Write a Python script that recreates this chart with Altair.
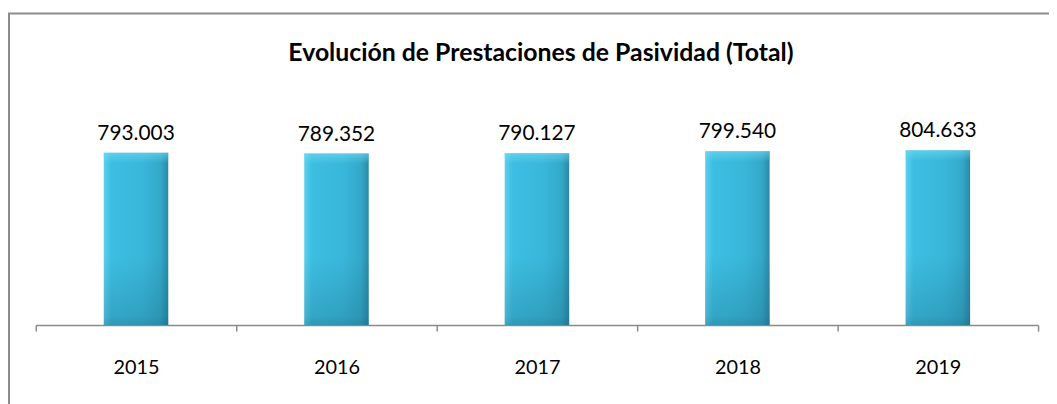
import altair as alt
import pandas as pd

years = ["2015", "2016", "2017", "2018", "2019"]
values = [793003, 789352, 790127, 799540, 804633]
labels = ["793.003", "789.352", "790.127", "799.540", "804.633"]
title_text = "Evolución de Prestaciones de Pasividad (Total)"

df = pd.DataFrame({"year": years, "value": values, "label": labels})

FONT = "Lato"

x = alt.X("year:N", title=None, sort=years,
          scale=alt.Scale(paddingInner=0, paddingOuter=0),
          axis=alt.Axis(labelAngle=0, tickBand="extent", domainColor="#8a8a8a",
                        tickColor="#8a8a8a", tickSize=6, domainWidth=1.5, tickWidth=1.5,
                        labelFont=FONT, labelFontSize=20, labelColor="#000000",
                        labelPadding=27, grid=False))
y = alt.Y("value:Q", title=None, scale=alt.Scale(domain=[0, 1000000]), axis=None)

grad = alt.Gradient(
    gradient="linear", x1=0, x2=1, y1=0, y2=0,
    stops=[alt.GradientStop(offset=0, color="#5CD0EE"),
           alt.GradientStop(offset=0.12, color="#3CBEE2"),
           alt.GradientStop(offset=0.6, color="#39B7DA"),
           alt.GradientStop(offset=0.88, color="#33A8C9"),
           alt.GradientStop(offset=1, color="#2A89A6")])

bars = alt.Chart(df).mark_bar(size=65, fill=grad).encode(x=x, y=y)

shade = alt.Chart(df).mark_bar(size=65, fill=alt.Gradient(
    gradient="linear", x1=0, x2=0, y1=0, y2=1,
    stops=[alt.GradientStop(offset=0, color="rgba(120,220,245,0.55)"),
           alt.GradientStop(offset=0.06, color="rgba(120,220,245,0.0)"),
           alt.GradientStop(offset=0.6, color="rgba(20,80,100,0.0)"),
           alt.GradientStop(offset=0.95, color="rgba(20,80,100,0.22)"),
           alt.GradientStop(offset=1, color="rgba(20,80,100,0.35)")])).encode(x=x, y=y)

text = alt.Chart(df).mark_text(font=FONT, fontSize=21, color="#000000",
                               baseline="bottom", dy=-9).encode(
    x=x, y=y, text="label:N")

one = alt.Data(values=[{"t": title_text}])
title = alt.Chart(one).mark_text(font=FONT, fontSize=25, fontWeight="bold",
                                 color="#000000", baseline="middle", align="center").encode(
    x=alt.value(509), y=alt.value(-55), text="t:N")

left_line = alt.Chart(one).mark_rule(color="#8c8c8c", strokeWidth=2).encode(
    x=alt.value(-27), y=alt.value(-95), y2=alt.value(400))
top_line = alt.Chart(one).mark_rule(color="#8c8c8c", strokeWidth=2).encode(
    x=alt.value(-28), x2=alt.value(1100), y=alt.value(-95))

chart = alt.layer(bars, shade, text, title, left_line, top_line).properties(
    width=1010, height=219,
    autosize=alt.AutoSizeParams(type="none"),
    padding={"left": 28, "top": 99, "right": 11, "bottom": 78},
).configure(background="white").configure_view(stroke=None)

chart.save("out.html", embed_options={"renderer": "svg", "actions": False})
